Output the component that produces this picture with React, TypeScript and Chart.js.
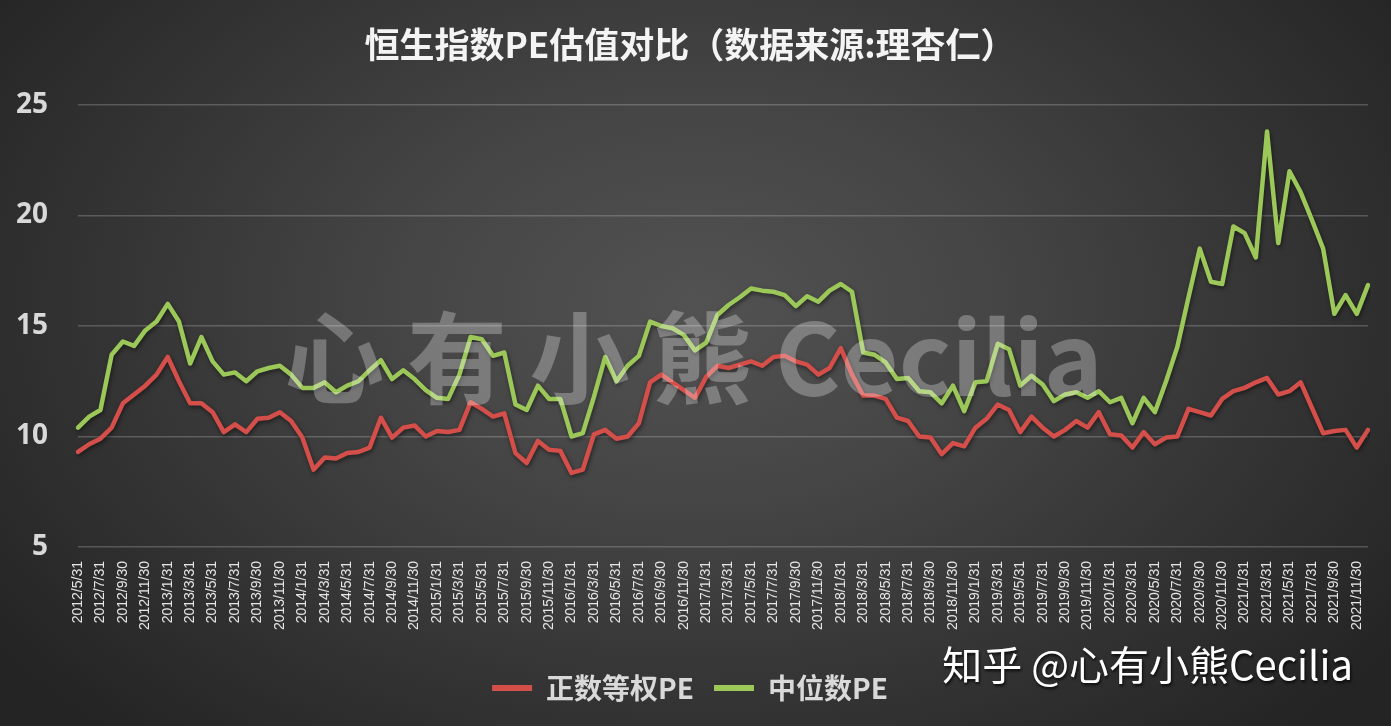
import React, { useEffect, useRef } from "react";
import { Chart, registerables } from "chart.js";

Chart.register(...registerables);

const categories = [
  "2012/5/31", "2012/6/30", "2012/7/31", "2012/8/31", "2012/9/30", "2012/10/31", "2012/11/30", "2012/12/31",
  "2013/1/31", "2013/2/28", "2013/3/31", "2013/4/30", "2013/5/31", "2013/6/30", "2013/7/31", "2013/8/31", "2013/9/30", "2013/10/31", "2013/11/30", "2013/12/31",
  "2014/1/31", "2014/2/28", "2014/3/31", "2014/4/30", "2014/5/31", "2014/6/30", "2014/7/31", "2014/8/31", "2014/9/30", "2014/10/31", "2014/11/30", "2014/12/31",
  "2015/1/31", "2015/2/28", "2015/3/31", "2015/4/30", "2015/5/31", "2015/6/30", "2015/7/31", "2015/8/31", "2015/9/30", "2015/10/31", "2015/11/30", "2015/12/31",
  "2016/1/31", "2016/2/29", "2016/3/31", "2016/4/30", "2016/5/31", "2016/6/30", "2016/7/31", "2016/8/31", "2016/9/30", "2016/10/31", "2016/11/30", "2016/12/31",
  "2017/1/31", "2017/2/28", "2017/3/31", "2017/4/30", "2017/5/31", "2017/6/30", "2017/7/31", "2017/8/31", "2017/9/30", "2017/10/31", "2017/11/30", "2017/12/31",
  "2018/1/31", "2018/2/28", "2018/3/31", "2018/4/30", "2018/5/31", "2018/6/30", "2018/7/31", "2018/8/31", "2018/9/30", "2018/10/31", "2018/11/30", "2018/12/31",
  "2019/1/31", "2019/2/28", "2019/3/31", "2019/4/30", "2019/5/31", "2019/6/30", "2019/7/31", "2019/8/31", "2019/9/30", "2019/10/31", "2019/11/30", "2019/12/31",
  "2020/1/31", "2020/2/29", "2020/3/31", "2020/4/30", "2020/5/31", "2020/6/30", "2020/7/31", "2020/8/31", "2020/9/30", "2020/10/31", "2020/11/30", "2020/12/31",
  "2021/1/31", "2021/2/28", "2021/3/31", "2021/4/30", "2021/5/31", "2021/6/30", "2021/7/31", "2021/8/31", "2021/9/30", "2021/10/31", "2021/11/30", "2021/12/31",
];

// 正数等权PE
const equalWeightPE = [
  9.3, 9.65, 9.9, 10.4, 11.5, 11.9, 12.3, 12.8, 13.6, 12.5,
  11.5, 11.5, 11.1, 10.2, 10.55, 10.2, 10.8, 10.85, 11.1, 10.7,
  9.95, 8.5, 9.05, 9.0, 9.25, 9.3, 9.5, 10.85, 9.95, 10.4,
  10.5, 10.0, 10.25, 10.2, 10.3, 11.55, 11.25, 10.9, 11.05, 9.25,
  8.8, 9.8, 9.4, 9.35, 8.35, 8.5, 10.1, 10.3, 9.9, 10.0,
  10.6, 12.45, 12.8, 12.45, 12.1, 11.75, 12.7, 13.2, 13.1, 13.25,
  13.4, 13.2, 13.6, 13.65, 13.4, 13.25, 12.8, 13.1, 14.0, 12.8,
  11.85, 11.85, 11.7, 10.85, 10.7, 10.0, 9.95, 9.2, 9.7, 9.55,
  10.4, 10.8, 11.45, 11.2, 10.2, 10.9, 10.4, 10.0, 10.3, 10.7,
  10.4, 11.1, 10.1, 10.05, 9.5, 10.2, 9.65, 9.95, 10.0, 11.25,
  11.1, 10.95, 11.7, 12.05, 12.2, 12.45, 12.65, 11.9, 12.05, 12.45,
  11.3, 10.15, 10.25, 10.3, 9.5, 10.3,
];

// 中位数PE
const medianPE = [
  10.4, 10.9, 11.2, 13.7, 14.3, 14.1, 14.8, 15.2, 16.0, 15.2,
  13.3, 14.5, 13.4, 12.8, 12.9, 12.5, 12.95, 13.1, 13.2, 12.8,
  12.2, 12.2, 12.45, 12.0, 12.3, 12.5, 13.0, 13.45, 12.6, 13.0,
  12.6, 12.1, 11.75, 11.7, 12.8, 14.5, 14.4, 13.65, 13.8, 11.45,
  11.2, 12.3, 11.7, 11.7, 10.0, 10.15, 11.8, 13.6, 12.5, 13.2,
  13.65, 15.2, 15.0, 14.9, 14.6, 13.9, 14.25, 15.5, 15.95, 16.3,
  16.7, 16.6, 16.55, 16.4, 15.9, 16.35, 16.1, 16.6, 16.9, 16.55,
  13.8, 13.7, 13.35, 12.6, 12.65, 12.05, 12.0, 11.5, 12.3, 11.15,
  12.45, 12.5, 14.2, 13.95, 12.3, 12.75, 12.35, 11.6, 11.9, 12.0,
  11.75, 12.05, 11.55, 11.75, 10.6, 11.75, 11.1, 12.5, 14.05, 16.3,
  18.5, 17.0, 16.9, 19.5, 19.2, 18.1, 23.8, 18.75, 22.0, 21.05,
  19.8, 18.5, 15.55, 16.4, 15.55, 16.85,
];

const seriesNames = ["正数等权PE", "中位数PE"];
const yMin = 5;
const yMax = 25;
const yStep = 5;
const titleText = "恒生指数PE估值对比（数据来源:理杏仁）";
const watermarkBig = "心 有 小 熊 Cecilia";
const watermarkSmall = "知乎 @心有小熊Cecilia";

const CJK = '"Noto Sans CJK SC", "Noto Sans", sans-serif';

const lineShadowPlugin = {
  id: "lineShadow",
  beforeDatasetDraw(chart: any) {
    const c = chart.ctx;
    c.save();
    c.shadowColor = "rgba(0,0,0,0.5)";
    c.shadowBlur = 4;
    c.shadowOffsetX = 1;
    c.shadowOffsetY = 2;
  },
  afterDatasetDraw(chart: any) {
    chart.ctx.restore();
  },
};

const watermarkPlugin = {
  id: "watermarks",
  afterDatasetsDraw(chart: any) {
    const { ctx, width } = chart;
    ctx.save();
    ctx.font = `bold 100px ${CJK}`;
    ctx.fillStyle = "rgba(255,255,255,0.28)";
    ctx.textAlign = "center";
    ctx.textBaseline = "middle";
    ctx.fillText(watermarkBig, width / 2 - 2, 358);
    ctx.restore();
  },
  afterDraw(chart: any) {
    const { ctx } = chart;
    ctx.save();
    ctx.font = `40px ${CJK}`;
    ctx.fillStyle = "#ffffff";
    ctx.shadowColor = "rgba(0,0,0,0.8)";
    ctx.shadowBlur = 3;
    ctx.shadowOffsetX = 1;
    ctx.shadowOffsetY = 2;
    ctx.textAlign = "right";
    ctx.textBaseline = "middle";
    ctx.fillText(watermarkSmall, 1353, 665);
    ctx.restore();
  },
};

export default function App() {
  const canvasRef = useRef<HTMLCanvasElement | null>(null);

  useEffect(() => {
    if (!canvasRef.current) return;
    const chart = new Chart(canvasRef.current, {
      type: "line",
      data: {
        labels: categories,
        datasets: [
          {
            label: seriesNames[0],
            data: equalWeightPE,
            borderColor: "#d44e4a",
            backgroundColor: "#d44e4a",
            borderWidth: 4.5,
            pointRadius: 0,
            tension: 0,
            borderJoinStyle: "round",
            borderCapStyle: "round",
          },
          {
            label: seriesNames[1],
            data: medianPE,
            borderColor: "#9cc759",
            backgroundColor: "#9cc759",
            borderWidth: 4.5,
            pointRadius: 0,
            tension: 0,
            borderJoinStyle: "round",
            borderCapStyle: "round",
          },
        ],
      },
      options: {
        responsive: false,
        animation: false,
        devicePixelRatio: 1,
        layout: { padding: { left: 12, right: 23, top: 0, bottom: 14 } },
        plugins: {
          title: {
            display: true,
            text: titleText,
            color: "#f4f4f4",
            font: { family: CJK, size: 35, weight: "bold" },
            padding: { top: 24, bottom: 39 },
          },
          legend: {
            position: "bottom",
            labels: {
              color: "#d9d9d9",
              font: { family: CJK, size: 28, weight: "bold" },
              boxWidth: 40,
              boxHeight: 6,
              padding: 20,
              generateLabels: (c: any) =>
                (Chart as any).defaults.plugins.legend.labels
                  .generateLabels(c)
                  .map((l: any) => ({ ...l, lineWidth: 0 })),
            },
          },
          tooltip: { enabled: false },
        },
        scales: {
          x: {
            type: "category",
            offset: false,
            grid: { display: false },
            border: { display: false },
            ticks: {
              autoSkip: false,
              minRotation: 90,
              maxRotation: 90,
              padding: 6,
              color: "#e6e6e6",
              font: { family: '"Liberation Sans", Arial, sans-serif', size: 14 },
              callback: (_v: any, i: number) => (i % 2 === 0 ? categories[i] : ""),
            },
            afterFit: (s: any) => {
              s.height = 107;
            },
          },
          y: {
            min: yMin,
            max: yMax,
            grid: { color: "rgba(255,255,255,0.2)", lineWidth: 1.5, drawTicks: false },
            border: { display: false },
            ticks: {
              stepSize: yStep,
              padding: 30,
              color: "#d9d9d9",
              font: { family: '"Open Sans", "Noto Sans", sans-serif', size: 28, weight: "bold" },
            },
            afterFit: (s: any) => {
              s.width = 66;
            },
          },
        },
      },
      plugins: [lineShadowPlugin, watermarkPlugin],
    } as any);
    return () => chart.destroy();
  }, []);

  return (
    <div
      style={{
        position: "fixed",
        left: 0,
        top: 0,
        width: 1391,
        height: 726,
        background:
          "radial-gradient(ellipse 62% 80% at 50% 42%, #525252 0%, #454545 35%, #333333 70%, #242424 100%)",
      }}
    >
      <canvas ref={canvasRef} width={1391} height={726} style={{ display: "block" }} />
    </div>
  );
}
